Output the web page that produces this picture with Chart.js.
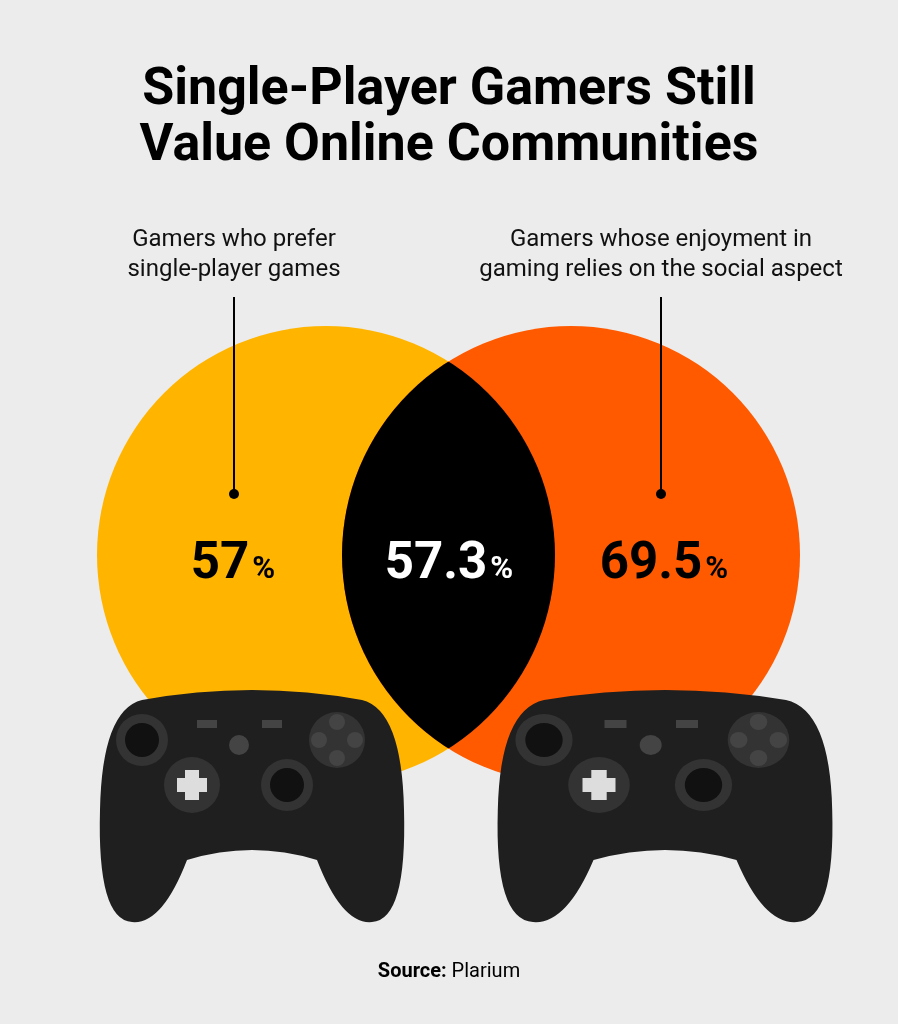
<!DOCTYPE html>
<html><head><meta charset="utf-8">
<script src="https://cdn.jsdelivr.net/npm/chart.js@4/dist/chart.umd.min.js"></script>
<style>html,body{margin:0;padding:0;background:#ececec}#w{width:898px;height:1024px}</style>
</head><body><div id="w"><canvas id="c" width="898" height="1024"></canvas></div>
<script>
const categories = ["Gamers who prefer\nsingle-player games", "Gamers whose enjoyment in\ngaming relies on the social aspect"];
const seriesValues = [57, 69.5];
const overlapValue = [57.3];
const circleX = [326, 571];
const circleY = [555, 555];
const circleR = [229, 229];
const colors = ["#FFB400", "#FF5A00"];

function controller(ctx, x, y, sx, sy) {
  ctx.save(); ctx.translate(x, y); ctx.scale(sx, sy);
  ctx.fillStyle = "#1f1f1f";
  ctx.beginPath();
  ctx.moveTo(40, 10);
  ctx.quadraticCurveTo(150, -10, 260, 10);
  ctx.quadraticCurveTo(300, 20, 302, 120);
  ctx.quadraticCurveTo(305, 230, 270, 232);
  ctx.quadraticCurveTo(240, 235, 215, 170);
  ctx.quadraticCurveTo(150, 150, 85, 170);
  ctx.quadraticCurveTo(60, 235, 30, 232);
  ctx.quadraticCurveTo(-5, 230, -2, 120);
  ctx.quadraticCurveTo(0, 20, 40, 10);
  ctx.fill();
  ctx.fillStyle = "#333";
  [[40,50,26],[185,95,26],[90,95,28],[235,50,28]].forEach(c=>{ctx.beginPath();ctx.arc(c[0],c[1],c[2],0,7);ctx.fill();});
  ctx.fillStyle = "#111";
  [[40,50,17],[185,95,17]].forEach(c=>{ctx.beginPath();ctx.arc(c[0],c[1],c[2],0,7);ctx.fill();});
  ctx.fillStyle = "#ddd";
  ctx.fillRect(83,80,14,30); ctx.fillRect(75,88,30,14);
  ctx.fillStyle = "#444";
  [[235,32],[235,68],[217,50],[253,50]].forEach(c=>{ctx.beginPath();ctx.arc(c[0],c[1],8,0,7);ctx.fill();});
  ctx.fillRect(95,30,20,8); ctx.fillRect(160,30,20,8);
  ctx.beginPath();ctx.arc(137,55,10,0,7);ctx.fill();
  ctx.restore();
}

const venn = {
  id: "venn",
  beforeDatasetsDraw(chart) {
    const ctx = chart.ctx, xs = chart.scales.x, ys = chart.scales.y;
    const P = i => [xs.getPixelForValue(circleX[i]), ys.getPixelForValue(circleY[i]), xs.getPixelForValue(circleX[i]+circleR[i]) - xs.getPixelForValue(circleX[i])];
    const a = P(0), b = P(1);
    ctx.save();
    [a, b].forEach((p, i) => { ctx.fillStyle = colors[i]; ctx.beginPath(); ctx.arc(p[0], p[1], p[2], 0, Math.PI*2); ctx.fill(); });
    ctx.save(); ctx.beginPath(); ctx.arc(a[0], a[1], a[2], 0, Math.PI*2); ctx.clip();
    ctx.fillStyle = "#000"; ctx.beginPath(); ctx.arc(b[0], b[1], b[2], 0, Math.PI*2); ctx.fill(); ctx.restore();

    ctx.textAlign = "center"; ctx.textBaseline = "alphabetic";
    ctx.fillStyle = "#000"; ctx.font = "bold 52px Roboto, Inter, sans-serif";
    ctx.fillText("Single-Player Gamers Still", 449, 104);
    ctx.fillText("Value Online Communities", 449, 160);

    ctx.font = "24px Roboto, sans-serif"; ctx.fillStyle = "#111";
    const lx = [234, 661];
    categories.forEach((c, i) => {
      c.split("\n").forEach((l, j) => ctx.fillText(l, lx[i], 246 + j*30));
      ctx.strokeStyle = "#000"; ctx.lineWidth = 2;
      ctx.beginPath(); ctx.moveTo(lx[i], 297); ctx.lineTo(lx[i], 494); ctx.stroke();
      ctx.fillStyle = "#000"; ctx.beginPath(); ctx.arc(lx[i], 494, 5, 0, 7); ctx.fill(); ctx.fillStyle = "#111";
    });

    function pct(v, x, y, col) {
      ctx.fillStyle = col;
      ctx.font = "bold 51px Roboto, sans-serif";
      const s = String(v); const w1 = ctx.measureText(s).width;
      ctx.font = "bold 31px Roboto, sans-serif";
      const w2 = ctx.measureText("%").width + 3;
      const x0 = x - (w1 + w2)/2;
      ctx.textAlign = "left";
      ctx.font = "bold 51px Roboto, sans-serif"; ctx.fillText(s, x0, y);
      ctx.font = "bold 31px Roboto, sans-serif"; ctx.fillText("%", x0 + w1 + 3, y);
      ctx.textAlign = "center";
    }
    pct(seriesValues[0], 233, 578, "#000");
    pct(overlapValue[0], 449, 578, "#fff");
    pct(seriesValues[1], 664, 578, "#000");

    controller(ctx, 102, 690, 1.0, 1.0);
    controller(ctx, 500, 690, 1.1, 1.0);

    ctx.fillStyle = "#000"; ctx.textAlign = "left";
    const t1 = "Source: "; ctx.font = "bold 20px Roboto, sans-serif"; const w1 = ctx.measureText(t1).width;
    ctx.font = "20px Roboto, sans-serif"; const w2 = ctx.measureText("Plarium").width;
    const x0 = 449 - (w1 + w2)/2;
    ctx.font = "bold 20px Roboto, sans-serif"; ctx.fillText(t1, x0, 977);
    ctx.font = "20px Roboto, sans-serif"; ctx.fillText("Plarium", x0 + w1, 977);
    ctx.restore();
  }
};

new Chart(document.getElementById("c"), {
  type: "scatter",
  data: { datasets: [{ data: circleX.map((x, i) => ({ x, y: circleY[i] })), pointRadius: 0 }] },
  options: {
    responsive: false, animation: false, events: [],
    layout: { padding: 0 },
    plugins: { legend: { display: false }, tooltip: { enabled: false } },
    scales: {
      x: { type: "linear", min: 0, max: 898, display: false },
      y: { type: "linear", min: 0, max: 1024, reverse: true, display: false }
    }
  },
  plugins: [venn]
});
</script></body></html>
